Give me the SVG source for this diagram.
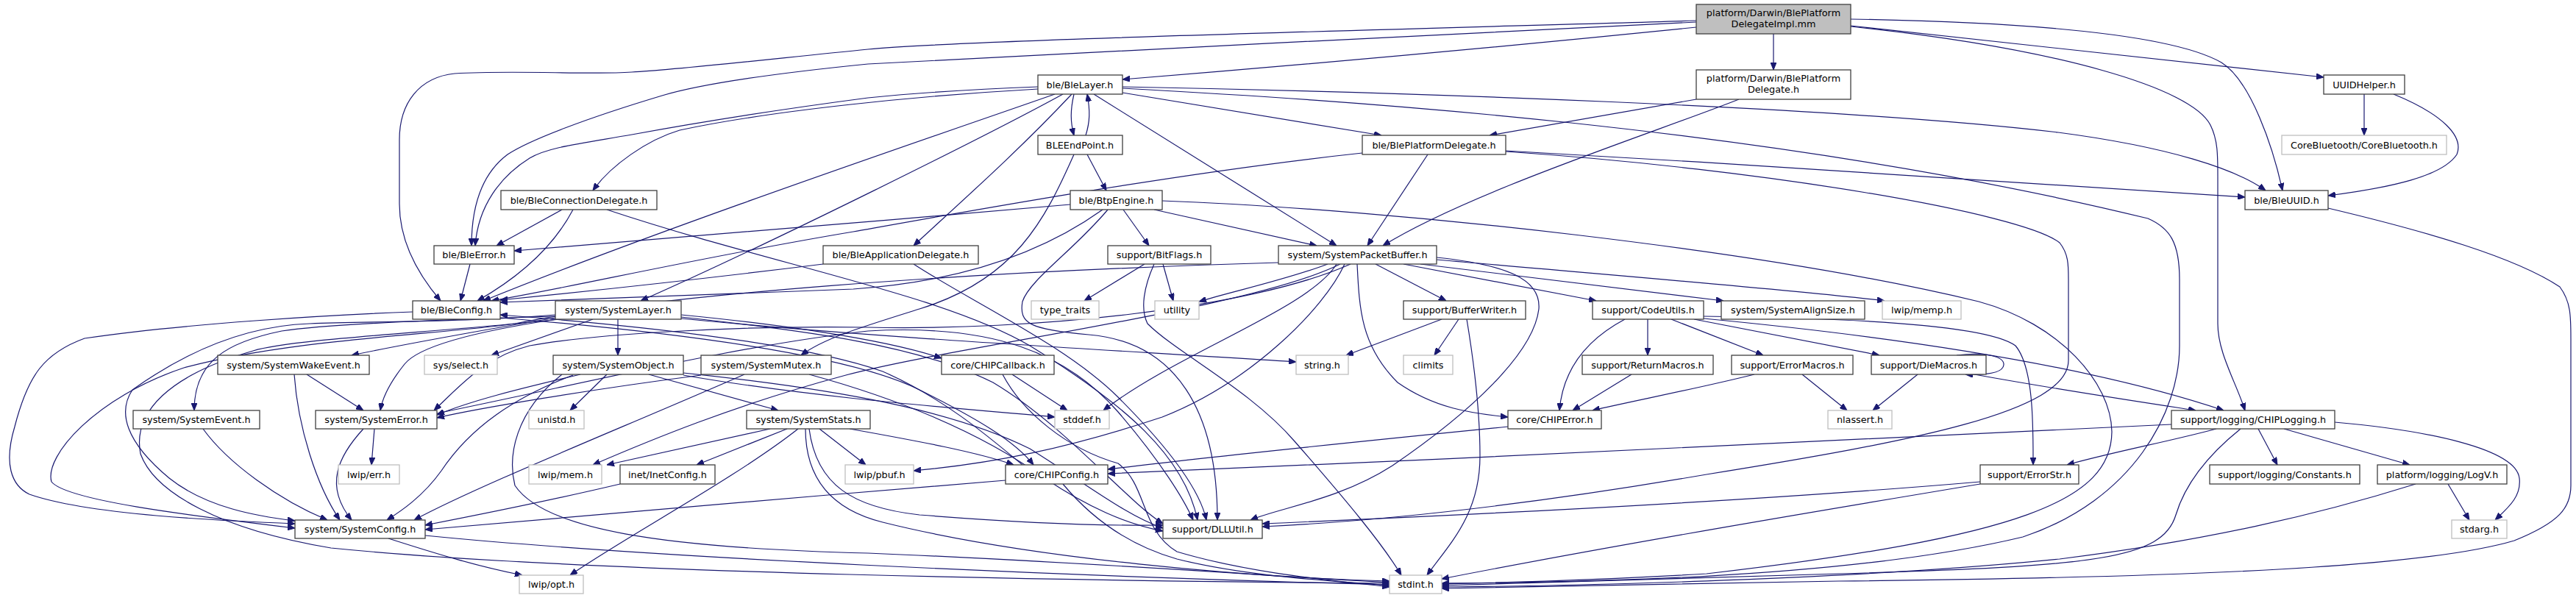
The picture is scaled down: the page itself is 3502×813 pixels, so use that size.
<svg xmlns="http://www.w3.org/2000/svg" width="3502" height="813" viewBox="0 0 3502 813">
<defs>
<style>
.n rect{fill:#fff;stroke:#404040;stroke-width:1.3}
.x rect{fill:#fff;stroke:#bfbfbf;stroke-width:1.3}
.m rect{fill:#bfbfbf;stroke:#404040;stroke-width:1.3}
text{font-family:"DejaVu Sans","Liberation Sans",sans-serif;font-size:12.8px;text-anchor:middle;fill:#000}
#edges path{fill:none;stroke:#191970;stroke-width:1.2;marker-end:url(#ah)}
</style>
<marker id="ah" viewBox="0 0 10 8" refX="10" refY="4" markerWidth="10" markerHeight="8" markerUnits="userSpaceOnUse" orient="auto"><path d="M0,0 L10,4 L0,8 z" fill="#191970" stroke="#191970" stroke-width="1"/></marker>
</defs>
<rect width="3502" height="813" fill="#fff"/>
<g id="edges">
<path d="M2306,37 C2000,68 1750,90 1526,108"/>
<path d="M2411,46 L2411,95"/>
<path d="M2306,28 C1900,40 1300,55 1180,67 C1050,80 920,95 859,98 C800,102 700,95 618,100 C570,105 543,140 543,190 L543,277 C543,330 570,375 599,409"/>
<path d="M2306,30 C2000,45 1500,70 1180,87 C1050,100 950,115 900,130 C800,160 720,190 690,210 C650,240 641,290 641,334"/>
<path d="M2516,26 C2750,30 2950,45 3020,85 C3060,110 3090,200 3103,259"/>
<path d="M2516,35 L3159,105"/>
<path d="M2516,36 C2800,66 2980,120 3005,170 C3015,190 3015,210 3015,240 L3015,440 C3015,480 3040,520 3052,558"/>
<path d="M2306,135 L2025,184"/>
<path d="M2364,135 C2250,180 2000,260 1880,334"/>
<path d="M1460,128 C1455,150 1455,165 1460,184"/>
<path d="M1476,184 C1482,165 1482,150 1478,128"/>
<path d="M1411,118 C1300,122 1230,128 1180,133 C1050,150 930,170 859,183 C790,195 745,200 720,215 C680,240 650,280 646,334"/>
<path d="M1411,121 C1250,130 1050,150 924,177 C880,190 830,225 806,259"/>
<path d="M1434,128 C1300,175 900,310 657,409"/>
<path d="M1445,128 C1350,180 1050,330 871,409"/>
<path d="M1457,128 C1380,210 1300,280 1242,334"/>
<path d="M1487,128 L1817,334"/>
<path d="M1526,118 C1900,125 2500,145 2798,180 C2950,200 3040,230 3080,259"/>
<path d="M1526,120 C1800,135 2400,170 2920,297 C2950,310 2963,330 2963,380 L2963,470 C2963,560 2900,680 2750,730 C2500,790 2100,792 1960,793"/>
<path d="M1526,126 L1878,184"/>
<path d="M1478,210 L1504,259"/>
<path d="M1460,210 C1420,300 1380,380 1250,420 C1170,445 1120,460 1089,483"/>
<path d="M1455,278 C1200,300 900,325 699,341"/>
<path d="M1499,285 C1450,320 1350,380 1160,393 C1000,400 800,405 680,411"/>
<path d="M1506,285 C1460,340 1400,380 1390,410 C1385,440 1400,448 1480,455 C1600,465 1655,560 1655,707"/>
<path d="M1527,285 L1562,334"/>
<path d="M1580,273 C1900,285 2400,340 2690,410 C2800,440 2870,520 2871,587 C2870,680 2750,730 2320,780 C2150,790 2000,793 1960,794"/>
<path d="M1569,285 L1790,334"/>
<path d="M1556,359 L1474,409"/>
<path d="M1581,359 L1595,409"/>
<path d="M1569,359 C1555,390 1550,420 1560,440 C1600,480 1700,530 1760,600 C1830,680 1880,740 1905,782"/>
<path d="M1119,359 C950,380 780,398 680,408"/>
<path d="M1242,359 C1320,410 1450,470 1520,540 C1580,600 1630,660 1640,707"/>
<path d="M764,285 L675,334"/>
<path d="M779,285 C750,340 700,380 649,409"/>
<path d="M825,285 C1050,360 1280,400 1400,470 C1530,550 1610,620 1628,707"/>
<path d="M639,359 L626,409"/>
<path d="M1852,208 C1600,235 1300,290 1160,315 C950,350 780,390 668,409"/>
<path d="M1941,210 L1859,334"/>
<path d="M2047,205 C2400,225 2800,250 3052,268"/>
<path d="M2047,206 C2400,230 2750,290 2800,330 C2812,345 2812,360 2812,380 L2812,490 C2812,560 2600,600 2320,645 C2000,700 1800,712 1716,716"/>
<path d="M1870,359 L1966,409"/>
<path d="M1908,359 L2170,409"/>
<path d="M1931,359 C2100,380 2250,398 2343,409"/>
<path d="M1953,353 C2200,375 2450,395 2562,409"/>
<path d="M1953,350 C2050,360 2095,380 2092,420 C2085,480 2000,560 1893,633 C1820,680 1740,690 1700,707"/>
<path d="M1845,359 C1848,420 1850,470 1900,520 C1950,555 2000,562 2050,567"/>
<path d="M1828,359 C1800,420 1700,520 1580,567 C1450,610 1350,630 1242,640"/>
<path d="M1817,359 C1780,420 1600,480 1500,558"/>
<path d="M1805,359 C1750,380 1680,395 1630,410"/>
<path d="M1836,359 C1700,420 1400,450 1180,445 C1000,442 800,455 720,470 C660,485 630,520 590,558"/>
<path d="M1738,357 C1300,370 900,400 700,440 C600,455 400,460 250,500 C130,540 60,620 70,655 C90,680 250,700 401,718"/>
<path d="M561,424 C450,428 250,440 115,460 C60,480 38,510 20,580 C5,630 15,660 40,672 C120,700 300,708 401,712"/>
<path d="M755,428 C650,437 520,437 421,440 C330,443 250,480 180,530 C160,560 170,600 230,650 C280,690 350,702 401,708"/>
<path d="M755,430 C650,433 450,440 383,450 C310,465 264,490 264,558"/>
<path d="M755,432 C650,450 550,468 478,483"/>
<path d="M757,434 C650,450 570,470 550,495 C530,520 520,540 517,558"/>
<path d="M806,434 L668,483"/>
<path d="M840,434 L840,483"/>
<path d="M926,428 C1050,440 1200,460 1280,487"/>
<path d="M926,433 C1200,460 1500,475 1762,492"/>
<path d="M760,434 C600,452 400,460 344,477 C230,510 180,560 191,617 C210,670 300,720 450,745 C800,780 1500,790 1889,793"/>
<path d="M926,431 C1100,450 1250,470 1350,520 C1450,580 1530,680 1581,712"/>
<path d="M825,509 L775,558"/>
<path d="M882,509 L1058,558"/>
<path d="M789,509 C700,530 640,545 594,564"/>
<path d="M779,510 C700,540 640,580 600,640 C575,675 545,695 526,707"/>
<path d="M764,509 C700,560 690,620 700,660 C740,720 900,745 1180,752 C1500,765 1750,785 1889,792"/>
<path d="M929,510 C1100,540 1300,555 1434,567"/>
<path d="M929,507 C1150,530 1300,560 1400,610 C1480,660 1530,700 1581,718"/>
<path d="M1012,509 C850,580 650,660 563,707"/>
<path d="M953,510 C800,530 650,555 594,568"/>
<path d="M1100,509 C1250,550 1350,600 1420,650 C1480,690 1530,712 1581,722"/>
<path d="M1822,359 C1700,420 1300,470 1150,510 C1000,550 880,600 806,632"/>
<path d="M1047,583 L825,632"/>
<path d="M1070,583 L947,632"/>
<path d="M1085,583 C1000,650 850,730 775,782"/>
<path d="M1114,583 L1177,632"/>
<path d="M1155,583 C1250,600 1330,615 1378,632"/>
<path d="M1095,583 C1095,640 1120,690 1200,710 C1400,760 1700,785 1889,790"/>
<path d="M1100,583 C1110,660 1160,690 1250,700 C1400,712 1500,715 1581,714"/>
<path d="M843,658 C750,680 650,700 578,714"/>
<path d="M1367,653 C1100,675 800,700 578,720"/>
<path d="M1445,658 C1480,700 1530,740 1600,760 C1700,785 1820,790 1889,796"/>
<path d="M1363,509 C1390,560 1450,610 1520,630 C1560,660 1550,720 1600,750 C1700,780 1820,790 1889,798"/>
<path d="M1376,509 L1451,558"/>
<path d="M680,432 C900,450 1150,480 1250,530 C1330,570 1380,600 1405,632"/>
<path d="M1390,632 C1340,590 1280,540 1200,505 C1100,470 900,445 680,428"/>
<path d="M528,732 C600,755 650,770 710,782"/>
<path d="M578,728 C900,760 1500,785 1889,795"/>
<path d="M417,509 L494,558"/>
<path d="M400,509 C405,580 430,660 462,707"/>
<path d="M276,583 C310,630 380,680 445,707"/>
<path d="M509,583 L505,632"/>
<path d="M494,583 C460,620 440,660 478,707"/>
<path d="M594,562 C800,520 1000,470 1180,450 C1350,440 1450,480 1520,560 C1580,630 1610,680 1622,707"/>
<path d="M3214,128 L3214,184"/>
<path d="M3254,128 C3320,155 3350,185 3340,210 C3320,240 3250,255 3165,266"/>
<path d="M2209,434 C2160,460 2125,500 2120,558"/>
<path d="M2240,434 L2240,483"/>
<path d="M2272,434 L2397,483"/>
<path d="M2303,434 L2555,483"/>
<path d="M2316,430 C2500,432 2700,440 2740,470 C2765,500 2764,580 2764,632"/>
<path d="M2316,433 C2600,460 2850,500 3023,558"/>
<path d="M2218,509 L2138,558"/>
<path d="M2385,509 C2300,530 2220,545 2165,558"/>
<path d="M2450,509 L2511,558"/>
<path d="M2607,509 L2546,558"/>
<path d="M2660,483 C2700,478 2725,485 2724,496 C2723,507 2700,510 2672,509"/>
<path d="M2684,509 C2800,530 2900,545 2985,558"/>
<path d="M2050,580 C1850,600 1650,620 1506,638"/>
<path d="M2952,577 C2600,590 2000,625 1506,644"/>
<path d="M3013,583 C2950,600 2870,615 2810,632"/>
<path d="M3070,583 L3096,632"/>
<path d="M3105,583 L3276,632"/>
<path d="M3174,574 C3300,585 3420,610 3425,650 C3428,675 3410,690 3392,707"/>
<path d="M3046,583 C3000,620 2970,660 2958,700 C2940,760 2850,770 2500,780 C2200,790 2050,795 1960,796"/>
<path d="M3328,658 L3357,707"/>
<path d="M3284,658 C3150,700 3000,735 2800,760 C2500,790 2100,797 1960,798"/>
<path d="M2692,658 C2500,690 2200,740 1960,787"/>
<path d="M2692,655 C2400,680 2000,700 1716,712"/>
<path d="M3165,283 C3300,315 3420,350 3480,390 C3495,410 3495,430 3495,460 L3495,660 C3495,690 3480,710 3418,735 C3300,770 3000,785 2500,790 C2200,795 2050,800 1960,800"/>
<path d="M1960,434 L1830,483"/>
<path d="M1983,434 L1950,483"/>
<path d="M1994,434 C2005,500 2012,560 2012,620 C2012,700 1970,740 1940,782"/>
</g>
<g id="n-main" class="m"><rect x="2306" y="6" width="210" height="40"/><text x="2411" y="21.8">platform/Darwin/BlePlatform</text><text x="2411" y="36.8">DelegateImpl.mm</text></g>
<g id="n-pdh" class="n"><rect x="2306" y="95" width="210" height="40"/><text x="2411" y="111">platform/Darwin/BlePlatform</text><text x="2411" y="126">Delegate.h</text></g>
<g id="n-blelayer" class="n"><rect x="1411" y="102" width="115" height="26"/><text x="1468" y="119.5">ble/BleLayer.h</text></g>
<g id="n-uuidhelper" class="n"><rect x="3159" y="102" width="110" height="26"/><text x="3214" y="119.5">UUIDHelper.h</text></g>
<g id="n-bleendpoint" class="n"><rect x="1411" y="184" width="115" height="26"/><text x="1468" y="201.5">BLEEndPoint.h</text></g>
<g id="n-bleplatdel" class="n"><rect x="1852" y="184" width="195" height="26"/><text x="1949.5" y="201.5">ble/BlePlatformDelegate.h</text></g>
<g id="n-corebt" class="x"><rect x="3102" y="184" width="224" height="26"/><text x="3214" y="201.5">CoreBluetooth/CoreBluetooth.h</text></g>
<g id="n-bleconndel" class="n"><rect x="681" y="259" width="212" height="26"/><text x="787" y="276.5">ble/BleConnectionDelegate.h</text></g>
<g id="n-btpengine" class="n"><rect x="1455" y="259" width="125" height="26"/><text x="1517.5" y="276.5">ble/BtpEngine.h</text></g>
<g id="n-bleuuid" class="n"><rect x="3052" y="259" width="113" height="26"/><text x="3108.5" y="276.5">ble/BleUUID.h</text></g>
<g id="n-bleerror" class="n"><rect x="590" y="334" width="109" height="25"/><text x="644.5" y="351">ble/BleError.h</text></g>
<g id="n-bleappdel" class="n"><rect x="1119" y="334" width="211" height="25"/><text x="1224.5" y="351">ble/BleApplicationDelegate.h</text></g>
<g id="n-bitflags" class="n"><rect x="1506" y="334" width="140" height="25"/><text x="1576" y="351">support/BitFlags.h</text></g>
<g id="n-spb" class="n"><rect x="1738" y="334" width="215" height="25"/><text x="1845.5" y="351">system/SystemPacketBuffer.h</text></g>
<g id="n-bleconfig" class="n"><rect x="561" y="409" width="119" height="25"/><text x="620.5" y="426">ble/BleConfig.h</text></g>
<g id="n-syslayer" class="n"><rect x="755" y="409" width="171" height="25"/><text x="840.5" y="426">system/SystemLayer.h</text></g>
<g id="n-typetraits" class="x"><rect x="1402" y="409" width="92" height="25"/><text x="1448" y="426">type_traits</text></g>
<g id="n-utility" class="x"><rect x="1570" y="409" width="60" height="25"/><text x="1600" y="426">utility</text></g>
<g id="n-bufwriter" class="n"><rect x="1908" y="409" width="166" height="25"/><text x="1991" y="426">support/BufferWriter.h</text></g>
<g id="n-codeutils" class="n"><rect x="2165" y="409" width="151" height="25"/><text x="2240.5" y="426">support/CodeUtils.h</text></g>
<g id="n-alignsize" class="n"><rect x="2340" y="409" width="195" height="25"/><text x="2437.5" y="426">system/SystemAlignSize.h</text></g>
<g id="n-memp" class="x"><rect x="2559" y="409" width="107" height="25"/><text x="2612.5" y="426">lwip/memp.h</text></g>
<g id="n-wakeevent" class="n"><rect x="296" y="483" width="206" height="26"/><text x="399" y="500.5">system/SystemWakeEvent.h</text></g>
<g id="n-select" class="x"><rect x="577" y="483" width="99" height="26"/><text x="626.5" y="500.5">sys/select.h</text></g>
<g id="n-sysobject" class="n"><rect x="752" y="483" width="177" height="26"/><text x="840.5" y="500.5">system/SystemObject.h</text></g>
<g id="n-sysmutex" class="n"><rect x="953" y="483" width="177" height="26"/><text x="1041.5" y="500.5">system/SystemMutex.h</text></g>
<g id="n-callback" class="n"><rect x="1280" y="483" width="153" height="26"/><text x="1356.5" y="500.5">core/CHIPCallback.h</text></g>
<g id="n-string" class="x"><rect x="1762" y="483" width="71" height="26"/><text x="1797.5" y="500.5">string.h</text></g>
<g id="n-climits" class="x"><rect x="1908" y="483" width="67" height="26"/><text x="1941.5" y="500.5">climits</text></g>
<g id="n-retmacros" class="n"><rect x="2151" y="483" width="178" height="26"/><text x="2240" y="500.5">support/ReturnMacros.h</text></g>
<g id="n-errmacros" class="n"><rect x="2354" y="483" width="165" height="26"/><text x="2436.5" y="500.5">support/ErrorMacros.h</text></g>
<g id="n-diemacros" class="n"><rect x="2544" y="483" width="156" height="26"/><text x="2622" y="500.5">support/DieMacros.h</text></g>
<g id="n-sysevent" class="n"><rect x="181" y="558" width="172" height="25"/><text x="267" y="575">system/SystemEvent.h</text></g>
<g id="n-syserror" class="n"><rect x="429" y="558" width="165" height="25"/><text x="511.5" y="575">system/SystemError.h</text></g>
<g id="n-unistd" class="x"><rect x="719" y="558" width="75" height="25"/><text x="756.5" y="575">unistd.h</text></g>
<g id="n-sysstats" class="n"><rect x="1015" y="558" width="168" height="25"/><text x="1099" y="575">system/SystemStats.h</text></g>
<g id="n-stddef" class="x"><rect x="1434" y="558" width="74" height="25"/><text x="1471" y="575">stddef.h</text></g>
<g id="n-chiperror" class="n"><rect x="2050" y="558" width="127" height="25"/><text x="2113.5" y="575">core/CHIPError.h</text></g>
<g id="n-nlassert" class="x"><rect x="2485" y="558" width="87" height="25"/><text x="2528.5" y="575">nlassert.h</text></g>
<g id="n-chiplogging" class="n"><rect x="2952" y="558" width="222" height="25"/><text x="3063" y="575">support/logging/CHIPLogging.h</text></g>
<g id="n-errh" class="x"><rect x="460" y="632" width="83" height="26"/><text x="501.5" y="649.5">lwip/err.h</text></g>
<g id="n-mem" class="x"><rect x="719" y="632" width="99" height="26"/><text x="768.5" y="649.5">lwip/mem.h</text></g>
<g id="n-inetconfig" class="n"><rect x="843" y="632" width="129" height="26"/><text x="907.5" y="649.5">inet/InetConfig.h</text></g>
<g id="n-pbuf" class="x"><rect x="1149" y="632" width="93" height="26"/><text x="1195.5" y="649.5">lwip/pbuf.h</text></g>
<g id="n-chipconfig" class="n"><rect x="1367" y="632" width="139" height="26"/><text x="1436.5" y="649.5">core/CHIPConfig.h</text></g>
<g id="n-errorstr" class="n"><rect x="2692" y="632" width="134" height="26"/><text x="2759" y="649.5">support/ErrorStr.h</text></g>
<g id="n-constants" class="n"><rect x="3004" y="632" width="204" height="26"/><text x="3106" y="649.5">support/logging/Constants.h</text></g>
<g id="n-logv" class="n"><rect x="3232" y="632" width="176" height="26"/><text x="3320" y="649.5">platform/logging/LogV.h</text></g>
<g id="n-sysconfig" class="n"><rect x="401" y="707" width="177" height="25"/><text x="489.5" y="724">system/SystemConfig.h</text></g>
<g id="n-dllutil" class="n"><rect x="1581" y="707" width="135" height="25"/><text x="1648.5" y="724">support/DLLUtil.h</text></g>
<g id="n-stdarg" class="x"><rect x="3333" y="707" width="75" height="25"/><text x="3370.5" y="724">stdarg.h</text></g>
<g id="n-opt" class="x"><rect x="706" y="782" width="87" height="25"/><text x="749.5" y="799">lwip/opt.h</text></g>
<g id="n-stdint" class="x"><rect x="1889" y="782" width="71" height="25"/><text x="1924.5" y="799">stdint.h</text></g>
</svg>
